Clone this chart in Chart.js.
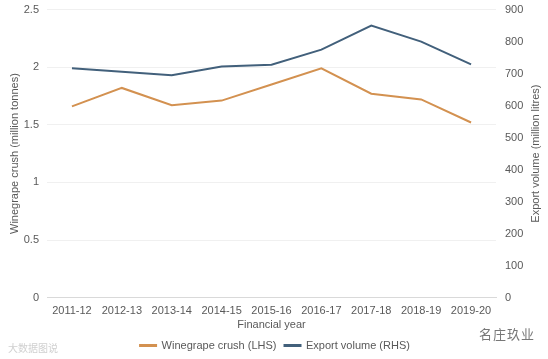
<!DOCTYPE html>
<html>
<head>
<meta charset="utf-8">
<script src="https://cdn.jsdelivr.net/npm/chart.js@4/dist/chart.umd.min.js"></script>
<style>
  html, body { margin: 0; padding: 0; background: #fff; }
  #wrap { position: relative; width: 548px; height: 359px; overflow: hidden; }
  #grafico { position: absolute; left: 0; top: -6px; }
  #marca { position: absolute; left: 479px; top: 324px; font: 13px "Noto Sans CJK SC", sans-serif; color: #777; letter-spacing: 1px; }
  #marca2 { position: absolute; left: 8px; top: 340px; font: 10px "Noto Sans CJK SC", sans-serif; color: #d0d0d0; }
</style>
</head>
<body>
<div id="wrap">
  <canvas id="grafico" width="548" height="365"></canvas>
  <div id="marca">名庄玖业</div>
  <div id="marca2">大数据图说</div>
</div>
<script>
// dados
const anos = ['2011-12', '2012-13', '2013-14', '2014-15', '2015-16', '2016-17', '2017-18', '2018-19', '2019-20'];
const esmagamento = [1.66, 1.82, 1.67, 1.71, 1.85, 1.99, 1.77, 1.72, 1.52]; // milhões de toneladas (LHS)
const exportacao = [717, 706, 695, 722, 728, 775, 850, 800, 729]; // milhões de litros (RHS)

const corLaranja = '#d39150';
const corAzul = '#42607b';
const corTexto = '#595959';
const fonte = { family: '"Liberation Sans", Arial, sans-serif', size: 11 };

// título do eixo direito lido de baixo para cima, como no original
const tituloDireito = {
    id: 'tituloDireito',
    afterDraw(chart) {
        const ctx = chart.ctx;
        const area = chart.chartArea;
        ctx.save();
        ctx.translate(536, (area.top + area.bottom) / 2);
        ctx.rotate(-Math.PI / 2);
        ctx.font = '11px "Liberation Sans", Arial, sans-serif';
        ctx.fillStyle = corTexto;
        ctx.textAlign = 'center';
        ctx.textBaseline = 'middle';
        ctx.fillText('Export volume (million litres)', 0, 0);
        ctx.restore();
    }
};

new Chart(document.getElementById('grafico'), {
    type: 'line',
    data: {
        labels: anos,
        datasets: [{
            label: 'Winegrape crush (LHS)',
            data: esmagamento,
            borderColor: corLaranja,
            backgroundColor: corLaranja,
            borderWidth: 2,
            pointRadius: 0,
            tension: 0,
            yAxisID: 'y'
        }, {
            label: 'Export volume (RHS)',
            data: exportacao,
            borderColor: corAzul,
            backgroundColor: corAzul,
            borderWidth: 2,
            pointRadius: 0,
            tension: 0,
            yAxisID: 'y2'
        }]
    },
    options: {
        responsive: false,
        animation: false,
        layout: { autoPadding: false, padding: { top: 2, right: 4, left: 6, bottom: -2 } },
        plugins: {
            tooltip: { enabled: false },
            legend: {
                position: 'bottom',
                labels: {
                    color: corTexto,
                    font: fonte,
                    boxWidth: 16,
                    boxHeight: 1,
                    padding: 8
                }
            }
        },
        scales: {
            x: {
                offset: true,
                grid: { display: false, drawTicks: false },
                border: { color: '#d9d9d9' },
                ticks: { color: corTexto, font: fonte, maxRotation: 0, padding: 7 },
                title: { display: true, text: 'Financial year', color: corTexto, font: fonte, padding: { top: -6, bottom: 0 } }
            },
            y: {
                position: 'left',
                min: 0,
                max: 2.5,
                ticks: { stepSize: 0.5, color: corTexto, font: fonte, padding: 8, callback: v => String(v) },
                grid: { color: '#f0f0f0', drawTicks: false },
                border: { display: false },
                title: { display: true, text: 'Winegrape crush (million tonnes)', color: corTexto, font: fonte, padding: 2 },
                afterFit: s => { s.width = 41; }
            },
            y2: {
                position: 'right',
                min: 0,
                max: 900,
                ticks: { stepSize: 100, color: corTexto, font: fonte, padding: 9 },
                grid: { display: false, drawTicks: false },
                border: { display: false },
                afterFit: s => { s.width = 48; }
            }
        }
    },
    plugins: [tituloDireito]
});
</script>
</body>
</html>
